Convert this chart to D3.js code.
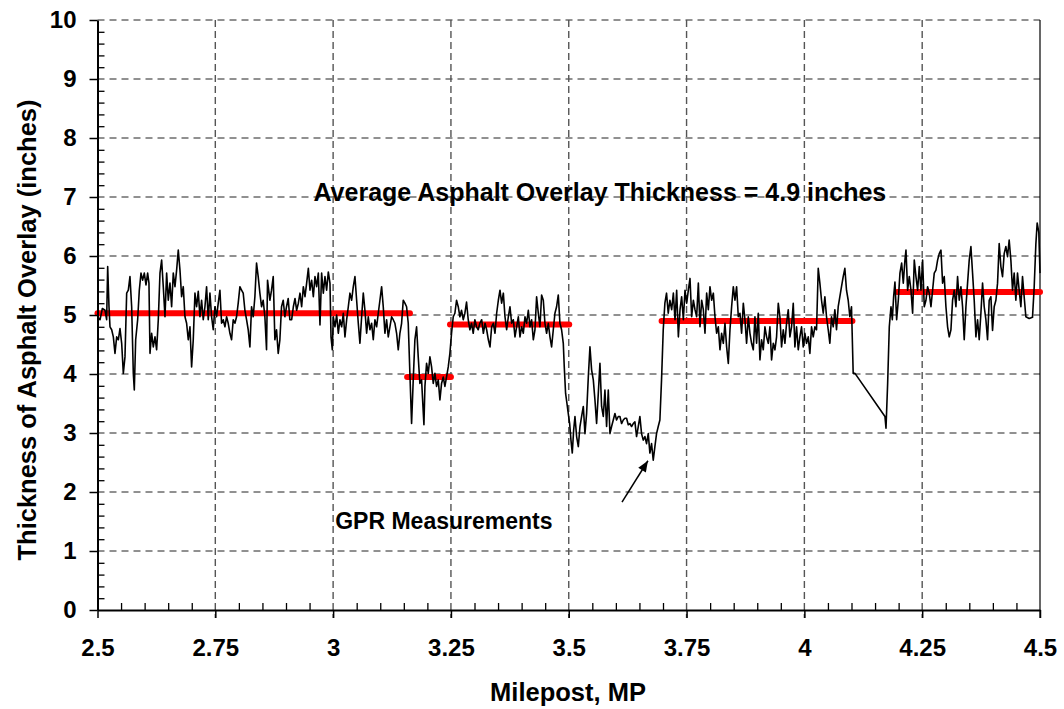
<!DOCTYPE html>
<html>
<head>
<meta charset="utf-8">
<script src="https://cdn.jsdelivr.net/npm/d3@7"></script>
<style>
html,body{margin:0;padding:0;background:#fff;}
svg{display:block;}
text{font-family:"Liberation Sans",Arial,sans-serif;font-weight:bold;fill:#000;}
</style>
</head>
<body>
<svg id="chart" width="1064" height="709"></svg>
<script>
// ---------------- data ----------------
const xTickValues = [2.5, 2.75, 3, 3.25, 3.5, 3.75, 4, 4.25, 4.5];
const xTickLabels = ["2.5", "2.75", "3", "3.25", "3.5", "3.75", "4", "4.25", "4.5"];
const yTickValues = [0, 1, 2, 3, 4, 5, 6, 7, 8, 9, 10];
const yTickLabels = ["0", "1", "2", "3", "4", "5", "6", "7", "8", "9", "10"];

// average overlay thickness per section: [start MP, end MP, thickness]
const avgStart = [2.5, 3.157, 3.248, 3.697, 4.197];
const avgEnd   = [3.163, 3.250, 3.501, 4.102, 4.5];
const avgValue = [5.03, 3.95, 4.84, 4.90, 5.39];

// GPR measurements [MP, thickness in]
const gprA = [[2.5000,4.97],[2.5053,4.92],[2.5103,5.11],[2.5159,5.08],[2.5194,4.92],[2.5216,5.82],[2.5244,5.14],[2.5265,4.80],[2.5301,4.75],[2.5336,4.63],[2.5371,4.35],[2.5407,4.63],[2.5442,4.58],[2.5477,4.77],[2.5513,4.52],[2.5548,4.01],[2.5583,4.29],[2.5619,5.37],[2.5654,5.42],[2.5689,5.65],[2.5725,5.14],[2.5760,4.01],[2.5781,3.73],[2.5810,4.58],[2.5852,4.92],[2.5887,5.42],[2.5923,5.71],[2.5958,5.59],[2.5993,5.71],[2.6029,5.51],[2.6064,5.71],[2.6092,5.54],[2.6114,4.35],[2.6149,4.69],[2.6184,4.46],[2.6220,4.63],[2.6255,4.41],[2.6290,4.92],[2.6326,5.71],[2.6361,5.93],[2.6396,5.48],[2.6432,4.97],[2.6467,5.71],[2.6502,5.25],[2.6538,5.54],[2.6573,5.14],[2.6608,5.71],[2.6644,5.48],[2.6679,5.76],[2.6714,6.10],[2.6750,5.76],[2.6785,5.31],[2.6820,5.48],[2.6856,4.97],[2.6891,4.86],[2.6926,4.58],[2.6962,4.80],[2.6997,4.12],[2.7032,4.58],[2.7068,5.37],[2.7103,5.14],[2.7138,5.40],[2.7174,4.97],[2.7209,5.25],[2.7244,4.92],[2.7280,5.14],[2.7315,5.48],[2.7350,4.92],[2.7386,5.37],[2.7421,4.97],[2.7456,4.75],[2.7492,5.14],[2.7527,4.97],[2.7562,5.20],[2.7598,5.42],[2.7633,4.86],[2.7668,4.92],[2.7704,4.80],[2.7739,4.97],[2.7774,4.86],[2.7810,4.69],[2.7845,4.58],[2.7880,4.92],[2.7916,4.86],[2.7951,4.97],[2.7986,5.20],[2.8022,5.48],[2.8057,5.42],[2.8092,5.37],[2.8128,5.08],[2.8163,4.92],[2.8198,4.75],[2.8234,4.46],[2.8269,5.14],[2.8304,4.97],[2.8340,5.31],[2.8375,5.88],[2.8410,5.65],[2.8446,5.37],[2.8481,5.14],[2.8516,5.25],[2.8552,4.97],[2.8587,4.41],[2.8608,5.59],[2.8658,5.25],[2.8693,5.42],[2.8729,5.65],[2.8764,4.58],[2.8799,4.75],[2.8835,4.35],[2.8870,4.58],[2.8905,5.14],[2.8941,5.25],[2.8976,4.97],[2.9011,5.14],[2.9047,5.28],[2.9082,4.92]];
const gprB = [[2.9120,4.92],[2.9156,5.14],[2.9191,5.28],[2.9226,5.08],[2.9262,5.20],[2.9297,5.37],[2.9332,5.14],[2.9368,5.48],[2.9403,5.31],[2.9438,5.54],[2.9474,5.79],[2.9509,5.42],[2.9544,5.59],[2.9580,5.31],[2.9615,5.65],[2.9650,5.48],[2.9686,5.71],[2.9721,4.83],[2.9756,5.71],[2.9792,5.37],[2.9827,5.65],[2.9862,5.42],[2.9898,5.73],[2.9933,5.54],[2.9955,4.63],[2.9983,4.41],[3.0004,4.97],[3.0039,4.80],[3.0075,5.00],[3.0110,4.69],[3.0145,4.92],[3.0181,4.80],[3.0216,5.03],[3.0251,4.63],[3.0287,4.92],[3.0322,5.14],[3.0357,5.37],[3.0393,5.25],[3.0428,5.48],[3.0463,5.65],[3.0499,5.25],[3.0534,4.86],[3.0569,4.52],[3.0605,4.97],[3.0640,5.37],[3.0675,5.08],[3.0711,4.69],[3.0746,4.97],[3.0781,4.75],[3.0817,4.86],[3.0852,4.58],[3.0887,4.92],[3.0923,4.80],[3.0958,5.03],[3.0993,5.25],[3.1029,5.48],[3.1064,5.14],[3.1099,4.69],[3.1135,4.92],[3.1170,4.63],[3.1205,4.80],[3.1241,4.97],[3.1276,4.92],[3.1311,4.86],[3.1347,4.69],[3.1382,4.41],[3.1417,4.69],[3.1453,4.86],[3.1488,5.25],[3.1523,5.20],[3.1559,5.14],[3.1594,4.86],[3.1629,4.01],[3.1665,3.16],[3.1700,3.90],[3.1735,4.58],[3.1771,4.80],[3.1806,4.29],[3.1841,3.84],[3.1877,3.90],[3.1899,3.56],[3.1927,3.14],[3.1948,3.79],[3.1983,4.18],[3.2019,4.01],[3.2054,4.29],[3.2089,4.12],[3.2125,3.84],[3.2160,4.01],[3.2195,3.79],[3.2231,3.90],[3.2266,3.56],[3.2301,3.84],[3.2337,3.95],[3.2372,3.79],[3.2407,3.95],[3.2443,4.12],[3.2478,4.35],[3.2513,4.69],[3.2549,4.97],[3.2584,5.03],[3.2619,5.25],[3.2655,5.14],[3.2690,4.97],[3.2725,5.08],[3.2761,4.92],[3.2796,5.03],[3.2831,5.22],[3.2867,4.92],[3.2902,4.75],[3.2937,4.86],[3.2973,4.69],[3.3008,4.92],[3.3043,4.80],[3.3079,4.75],[3.3114,4.86]];
const gprC = [[3.3152,4.92],[3.3188,4.69],[3.3223,4.86],[3.3258,4.75],[3.3294,4.58],[3.3329,4.46],[3.3364,4.80],[3.3400,4.86],[3.3435,4.69],[3.3470,5.03],[3.3506,5.25],[3.3541,5.42],[3.3576,5.20],[3.3612,5.37],[3.3647,4.97],[3.3682,4.75],[3.3718,4.97],[3.3753,5.14],[3.3788,4.86],[3.3824,4.92],[3.3859,4.63],[3.3894,4.80],[3.3930,4.97],[3.3965,4.63],[3.4000,4.80],[3.4036,4.69],[3.4071,4.97],[3.4106,4.86],[3.4142,5.08],[3.4177,4.80],[3.4212,4.92],[3.4248,4.58],[3.4283,4.75],[3.4318,5.31],[3.4354,5.03],[3.4389,4.80],[3.4424,5.34],[3.4460,5.25],[3.4495,4.86],[3.4530,4.69],[3.4566,4.86],[3.4601,4.63],[3.4636,4.46],[3.4672,4.75],[3.4707,5.03],[3.4742,5.14],[3.4778,5.34],[3.4813,4.86],[3.4848,4.75],[3.4884,4.52],[3.4905,4.12],[3.4933,3.67],[3.4962,3.50],[3.4990,3.33],[3.5019,3.16],[3.5047,2.88],[3.5075,2.66],[3.5104,3.05],[3.5132,3.28],[3.5167,2.94],[3.5203,2.77],[3.5238,3.11],[3.5273,3.28],[3.5309,3.45],[3.5344,2.99],[3.5379,3.33],[3.5415,3.95],[3.5450,4.46],[3.5485,4.07],[3.5521,3.90],[3.5556,3.56],[3.5591,3.16],[3.5627,3.67],[3.5662,4.18],[3.5697,3.45],[3.5733,3.28],[3.5768,3.73],[3.5803,3.11],[3.5839,3.73],[3.5874,2.99],[3.5909,3.11],[3.5945,3.22],[3.5980,3.33],[3.6015,3.22],[3.6051,3.28],[3.6086,3.28],[3.6121,3.16],[3.6157,3.22],[3.6192,3.25],[3.6227,3.25],[3.6263,3.14],[3.6298,3.16],[3.6333,3.11],[3.6369,3.16],[3.6404,3.19],[3.6439,2.94],[3.6475,3.11],[3.6510,3.28],[3.6545,2.99],[3.6581,2.88],[3.6616,2.94],[3.6651,2.82],[3.6687,2.99],[3.6722,2.66],[3.6757,2.82],[3.6793,2.54],[3.6828,2.77],[3.6863,2.99],[3.6899,3.11],[3.6934,3.22],[3.6969,3.90],[3.7005,4.75],[3.7040,5.20],[3.7075,5.37],[3.7111,5.03],[3.7146,5.25]];
const gprD = [[3.7184,5.09],[3.7220,5.37],[3.7255,4.92],[3.7290,5.42],[3.7326,4.63],[3.7361,5.09],[3.7396,5.31],[3.7432,4.92],[3.7467,5.42],[3.7502,5.20],[3.7538,5.42],[3.7573,5.62],[3.7608,4.97],[3.7644,5.25],[3.7679,5.09],[3.7714,4.97],[3.7750,5.54],[3.7785,4.80],[3.7820,5.25],[3.7856,5.09],[3.7891,4.69],[3.7926,5.37],[3.7962,5.09],[3.7997,5.48],[3.8032,5.25],[3.8068,5.37],[3.8103,4.97],[3.8138,4.69],[3.8174,4.80],[3.8209,4.41],[3.8244,4.69],[3.8280,4.52],[3.8315,4.86],[3.8350,4.46],[3.8386,4.18],[3.8421,4.75],[3.8456,5.14],[3.8492,5.48],[3.8527,5.25],[3.8562,5.48],[3.8598,4.97],[3.8633,5.03],[3.8668,4.69],[3.8704,5.20],[3.8739,4.92],[3.8774,4.52],[3.8810,4.97],[3.8845,4.69],[3.8880,4.52],[3.8916,4.41],[3.8951,4.97],[3.8986,4.52],[3.9022,5.03],[3.9057,4.24],[3.9092,4.58],[3.9128,4.41],[3.9163,4.80],[3.9198,4.63],[3.9234,4.52],[3.9269,4.80],[3.9304,4.24],[3.9340,4.52],[3.9375,4.41],[3.9410,4.63],[3.9446,5.20],[3.9481,4.97],[3.9516,4.46],[3.9552,4.75],[3.9587,4.52],[3.9622,4.86],[3.9658,5.09],[3.9693,4.63],[3.9728,4.80],[3.9764,5.20],[3.9799,4.46],[3.9834,4.80],[3.9870,4.41],[3.9905,4.63],[3.9940,4.80],[3.9976,4.46],[4.0011,4.69],[4.0046,4.52],[4.0082,4.63],[4.0117,4.35],[4.0152,4.80],[4.0188,4.63],[4.0223,4.80],[4.0258,4.75],[4.0294,5.79],[4.0329,5.54],[4.0364,5.25],[4.0400,5.03],[4.0435,5.31],[4.0470,4.97],[4.0506,4.75],[4.0541,4.52],[4.0576,4.97],[4.0612,4.80],[4.0647,5.09],[4.0682,4.75],[4.0718,5.14],[4.0753,5.31],[4.0788,5.48],[4.0824,5.65],[4.0859,5.79],[4.0894,5.42],[4.0930,5.25],[4.0965,4.97],[4.1000,5.14],[4.1036,4.01]];
const gprE = [[4.1074,4.01],[4.1710,3.28],[4.1732,3.08],[4.1767,3.84],[4.1802,4.80],[4.1838,5.14],[4.1866,4.92],[4.1894,5.31],[4.1922,5.56],[4.1958,4.92],[4.1993,5.25],[4.2028,5.71],[4.2064,5.88],[4.2099,5.54],[4.2134,5.93],[4.2156,6.10],[4.2191,5.42],[4.2226,5.65],[4.2262,5.42],[4.2297,5.03],[4.2332,5.93],[4.2368,5.65],[4.2403,5.42],[4.2438,5.82],[4.2474,5.42],[4.2509,5.93],[4.2544,5.14],[4.2580,5.25],[4.2615,5.48],[4.2650,5.37],[4.2686,5.14],[4.2721,5.42],[4.2756,5.71],[4.2792,5.76],[4.2827,5.93],[4.2862,6.04],[4.2898,6.10],[4.2933,5.54],[4.2968,5.65],[4.3004,5.14],[4.3039,4.80],[4.3074,4.63],[4.3110,4.75],[4.3145,5.25],[4.3180,5.42],[4.3216,5.14],[4.3251,5.65],[4.3286,5.25],[4.3322,5.48],[4.3357,5.14],[4.3392,4.58],[4.3428,5.14],[4.3463,5.54],[4.3498,5.93],[4.3534,6.16],[4.3569,5.71],[4.3604,5.25],[4.3640,4.63],[4.3675,4.92],[4.3710,4.58],[4.3746,5.03],[4.3781,5.54],[4.3816,5.14],[4.3852,4.92],[4.3887,4.58],[4.3922,5.25],[4.3958,5.31],[4.3993,4.74],[4.4028,5.14],[4.4064,5.25],[4.4099,5.54],[4.4134,6.21],[4.4170,5.82],[4.4205,5.65],[4.4240,6.04],[4.4276,6.16],[4.4311,5.99],[4.4346,6.27],[4.4382,5.93],[4.4417,5.42],[4.4452,5.71],[4.4488,5.25],[4.4523,5.71],[4.4558,5.42],[4.4594,5.14],[4.4629,5.65],[4.4664,5.31],[4.4700,4.97],[4.4770,4.94],[4.4841,4.96],[4.4877,5.48],[4.4912,6.20],[4.4940,6.56],[4.4975,6.40],[4.5000,5.71]];

// annotations
const titleAvg = "Average Asphalt Overlay Thickness = 4.9 inches";
const titleGpr = "GPR Measurements";
const xTitle = "Milepost, MP";
const yTitle = "Thickness of Asphalt Overlay (inches)";

// ---------------- drawing ----------------
const svg = d3.select("#chart");
const x = d3.scaleLinear().domain([2.5, 4.5]).range([97.5, 1040]);
const y = d3.scaleLinear().domain([0, 10]).range([610, 20]);
const FS_TICK = 24, FS_TITLE = 25.5, FS_NOTE = 25;

const xMinor = d3.range(0, 41).map(i => 2.5 + i * 0.05).filter(v => !xTickValues.some(t => Math.abs(t - v) < 1e-6));
const yMinor = d3.range(0, 51).map(i => i * 0.2).filter(v => !yTickValues.some(t => Math.abs(t - v) < 1e-6));

// horizontal gridlines
svg.append("g").selectAll("line").data(yTickValues.filter(v => v > 0)).join("line")
  .attr("x1", x(2.5)).attr("x2", x(4.5))
  .attr("y1", d => y(d)).attr("y2", d => y(d))
  .attr("stroke", "#222").attr("stroke-width", 1).attr("stroke-dasharray", "7,5");

// vertical gridlines
svg.append("g").selectAll("line").data(xTickValues.filter(v => v > 2.5 && v < 4.5)).join("line")
  .attr("x1", d => x(d)).attr("x2", d => x(d))
  .attr("y1", y(10)).attr("y2", y(0) + 8)
  .attr("stroke", "#555").attr("stroke-width", 1.4).attr("stroke-dasharray", "7,4");

// right border
svg.append("line").attr("x1", x(4.5)).attr("x2", x(4.5)).attr("y1", y(10)).attr("y2", y(0) + 8)
  .attr("stroke", "#000").attr("stroke-width", 1.2);

// average lines
const avgData = avgValue.map((v, i) => ({s: avgStart[i], e: avgEnd[i], v}));
svg.append("g").selectAll("line").data(avgData).join("line")
  .attr("x1", d => x(d.s)).attr("x2", d => x(d.e))
  .attr("y1", d => y(d.v)).attr("y2", d => y(d.v))
  .attr("stroke", "#ff0000").attr("stroke-width", 6).attr("stroke-linecap", "round");

// GPR trace
const gpr = gprA.concat(gprB, gprC, gprD, gprE);
svg.append("path").datum(gpr)
  .attr("d", d3.line().x(d => x(d[0])).y(d => y(d[1])))
  .attr("fill", "none").attr("stroke", "#000").attr("stroke-width", 1.6).attr("stroke-linejoin", "round");

// axes
const xAxis = d3.axisBottom(x).tickValues(xTickValues).tickFormat((d, i) => xTickLabels[i])
  .tickSize(8).tickSizeOuter(0).tickPadding(21);
const gx = svg.append("g").attr("transform", `translate(0,${y(0)})`).call(xAxis);
gx.select(".domain").attr("stroke", "#000").attr("stroke-width", 2);
gx.selectAll(".tick line").attr("stroke", "#000").attr("stroke-width", 1.5);
gx.selectAll("text").style("font-size", FS_TICK + "px").style("font-family", "'Liberation Sans', Arial, sans-serif").style("font-weight", "bold");

const xAxisMinor = d3.axisBottom(x).tickValues(xMinor).tickFormat("").tickSize(-7).tickSizeOuter(0);
const gxm = svg.append("g").attr("transform", `translate(0,${y(0)})`).call(xAxisMinor);
gxm.select(".domain").remove();
gxm.selectAll(".tick line").attr("stroke", "#000").attr("stroke-width", 1.3);

const yAxis = d3.axisLeft(y).tickValues(yTickValues).tickFormat((d, i) => yTickLabels[i])
  .tickSize(8).tickSizeOuter(0).tickPadding(13);
const gy = svg.append("g").attr("transform", `translate(${x(2.5)},0)`).call(yAxis);
gy.select(".domain").attr("stroke", "#000").attr("stroke-width", 2);
gy.selectAll(".tick line").attr("stroke", "#000").attr("stroke-width", 1.5);
gy.selectAll("text").style("font-size", FS_TICK + "px").style("font-family", "'Liberation Sans', Arial, sans-serif").style("font-weight", "bold");

const yAxisMinor = d3.axisLeft(y).tickValues(yMinor).tickFormat("").tickSize(-7).tickSizeOuter(0);
const gym = svg.append("g").attr("transform", `translate(${x(2.5)},0)`).call(yAxisMinor);
gym.select(".domain").remove();
gym.selectAll(".tick line").attr("stroke", "#000").attr("stroke-width", 1.3);

// axis titles
svg.append("text").attr("x", 568).attr("y", 701).attr("text-anchor", "middle")
  .style("font-size", FS_TITLE + "px").text(xTitle);
svg.append("text").attr("transform", "translate(36,330) rotate(-90)").attr("text-anchor", "middle")
  .style("font-size", FS_TITLE + "px").text(yTitle);

// annotations
svg.append("text").attr("x", x(3.566)).attr("y", y(6.93)).attr("text-anchor", "middle")
  .style("font-size", FS_NOTE + "px").text(titleAvg);
svg.append("text").attr("x", x(3.235)).attr("y", y(1.37)).attr("text-anchor", "middle")
  .style("font-size", FS_NOTE - 2 + "px").text(titleGpr);

// arrow
const arrowTail = [3.613, 1.83], arrowHead = [3.668, 2.53];
const ax1 = x(arrowTail[0]), ay1 = y(arrowTail[1]), ax2 = x(arrowHead[0]), ay2 = y(arrowHead[1]);
svg.append("line").attr("x1", ax1).attr("y1", ay1).attr("x2", ax2).attr("y2", ay2)
  .attr("stroke", "#000").attr("stroke-width", 1.5);
const ang = Math.atan2(ay2 - ay1, ax2 - ax1), L = 11, Wd = 4.5;
const bx = ax2 - L * Math.cos(ang), by = ay2 - L * Math.sin(ang);
svg.append("path")
  .attr("d", `M${ax2},${ay2} L${bx + Wd * Math.sin(ang)},${by - Wd * Math.cos(ang)} L${bx - Wd * Math.sin(ang)},${by + Wd * Math.cos(ang)} Z`)
  .attr("fill", "#000");
</script>
</body>
</html>
